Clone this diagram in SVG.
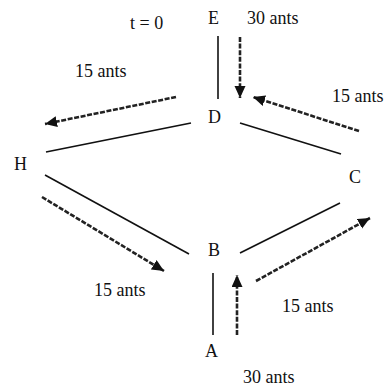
<svg xmlns="http://www.w3.org/2000/svg" width="385" height="392" viewBox="0 0 385 392">
<defs>
<marker id="ah" markerUnits="userSpaceOnUse" markerWidth="13" markerHeight="12" refX="12" refY="5.5" orient="auto">
<path d="M0,0 L12,5.5 L0,11 z" fill="#111"/>
</marker>
<style>
.e{stroke:#111;stroke-width:1.6;fill:none}
.a{stroke:#222;stroke-width:2.6;stroke-dasharray:5 1.6;fill:none;marker-end:url(#ah)}
.n,.l,.t{font-family:"Liberation Serif","Times New Roman",serif;font-size:18px;fill:#111}
</style>
</defs>
<rect width="385" height="392" fill="#fff"/>
<g id="connectors">
<line class="e" x1="218" y1="36" x2="218" y2="99"/>
<line class="e" x1="46" y1="152" x2="191" y2="123"/>
<line class="e" x1="240" y1="123" x2="341" y2="154"/>
<line class="e" x1="45" y1="175" x2="189" y2="254"/>
<line class="e" x1="240" y1="253" x2="340" y2="203"/>
<line class="e" x1="213" y1="273" x2="213" y2="335"/>
<line class="a" x1="240" y1="37" x2="240" y2="98"/>
<line class="a" x1="176" y1="97" x2="45" y2="124"/>
<line class="a" x1="359" y1="131" x2="253" y2="97"/>
<line class="a" x1="42" y1="197" x2="164" y2="271"/>
<line class="a" x1="256" y1="281" x2="370" y2="218"/>
<line class="a" x1="237" y1="335" x2="237" y2="275"/>
</g>
<g id="E"><text class="n" x="208" y="24">E</text></g>
<g id="D"><text class="n" x="208" y="123">D</text></g>
<g id="H"><text class="n" x="14" y="170">H</text></g>
<g id="C"><text class="n" x="349" y="183">C</text></g>
<g id="B"><text class="n" x="208" y="256">B</text></g>
<g id="A"><text class="n" x="205" y="357">A</text></g>
<g id="labels">
<text class="t" x="130" y="29">t = 0</text>
<text class="l" x="247" y="24">30 ants</text>
<text class="l" x="75" y="77">15 ants</text>
<text class="l" x="332" y="102">15 ants</text>
<text class="l" x="94" y="296">15 ants</text>
<text class="l" x="282" y="312">15 ants</text>
<text class="l" x="243" y="383">30 ants</text>
</g>
</svg>
